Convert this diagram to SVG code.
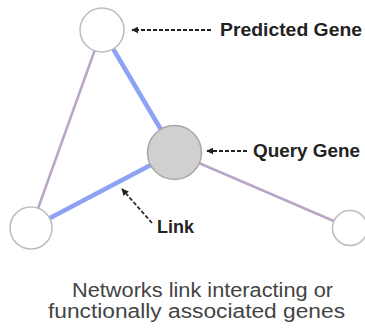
<svg xmlns="http://www.w3.org/2000/svg" width="365" height="329" viewBox="0 0 365 329">
<style>
.node{fill:#fff;stroke:#bdbdbd;stroke-width:1.5}
.query{fill:#d0d0d0;stroke:#a8a8a8;stroke-width:1.5}
.blue{stroke:#8ea2f5;stroke-width:4.5;fill:none}
.purple{stroke:#b9a6c6;stroke-width:2.5;fill:none}
.ptr{stroke:#222;stroke-width:1.8;stroke-dasharray:4 2;fill:none;marker-end:url(#ah)}
.lbl{font-family:"Liberation Sans",Arial,sans-serif;font-weight:bold;font-size:18.5px;fill:#222}
.cap{font-family:"Liberation Sans",Arial,sans-serif;font-size:20px;fill:#444}
</style>
<defs>
<marker id="ah" viewBox="0 0 10 10" refX="9" refY="5" markerWidth="7" markerHeight="7" orient="auto" markerUnits="userSpaceOnUse">
<path d="M0,0 L10,5 L0,10 z" fill="#222"/>
</marker>
</defs>
<g id="connectors">
<line class="blue" x1="102" y1="30" x2="174.5" y2="152.5"/>
<line class="purple" x1="102" y1="30" x2="31" y2="228"/>
<line class="blue" x1="31" y1="228" x2="174.5" y2="152.5"/>
<line class="purple" x1="174.5" y1="152.5" x2="350" y2="228"/>
</g>
<g id="predicted-gene"><circle class="node" cx="102" cy="30" r="22"/></g>
<g id="query-gene"><circle class="query" cx="174.5" cy="152.5" r="27"/></g>
<g id="gene-left"><circle class="node" cx="31" cy="228" r="21"/></g>
<g id="gene-right"><circle class="node" cx="350" cy="228" r="17.5"/></g>
<g id="labels">
<line class="ptr" x1="211" y1="30" x2="132" y2="30"/>
<text class="lbl" x="220" y="36" textLength="142" lengthAdjust="spacingAndGlyphs">Predicted Gene</text>
<line class="ptr" x1="247" y1="151" x2="207" y2="151"/>
<text class="lbl" x="253" y="157" textLength="107" lengthAdjust="spacingAndGlyphs">Query Gene</text>
<line class="ptr" x1="152" y1="223" x2="122" y2="189"/>
<text class="lbl" x="157" y="233" textLength="37" lengthAdjust="spacingAndGlyphs">Link</text>
</g>
<g id="caption">
<text class="cap" x="72" y="297" textLength="261" lengthAdjust="spacingAndGlyphs">Networks link interacting or</text>
<text class="cap" x="48" y="318" textLength="297" lengthAdjust="spacingAndGlyphs">functionally associated genes</text>
</g>
</svg>
